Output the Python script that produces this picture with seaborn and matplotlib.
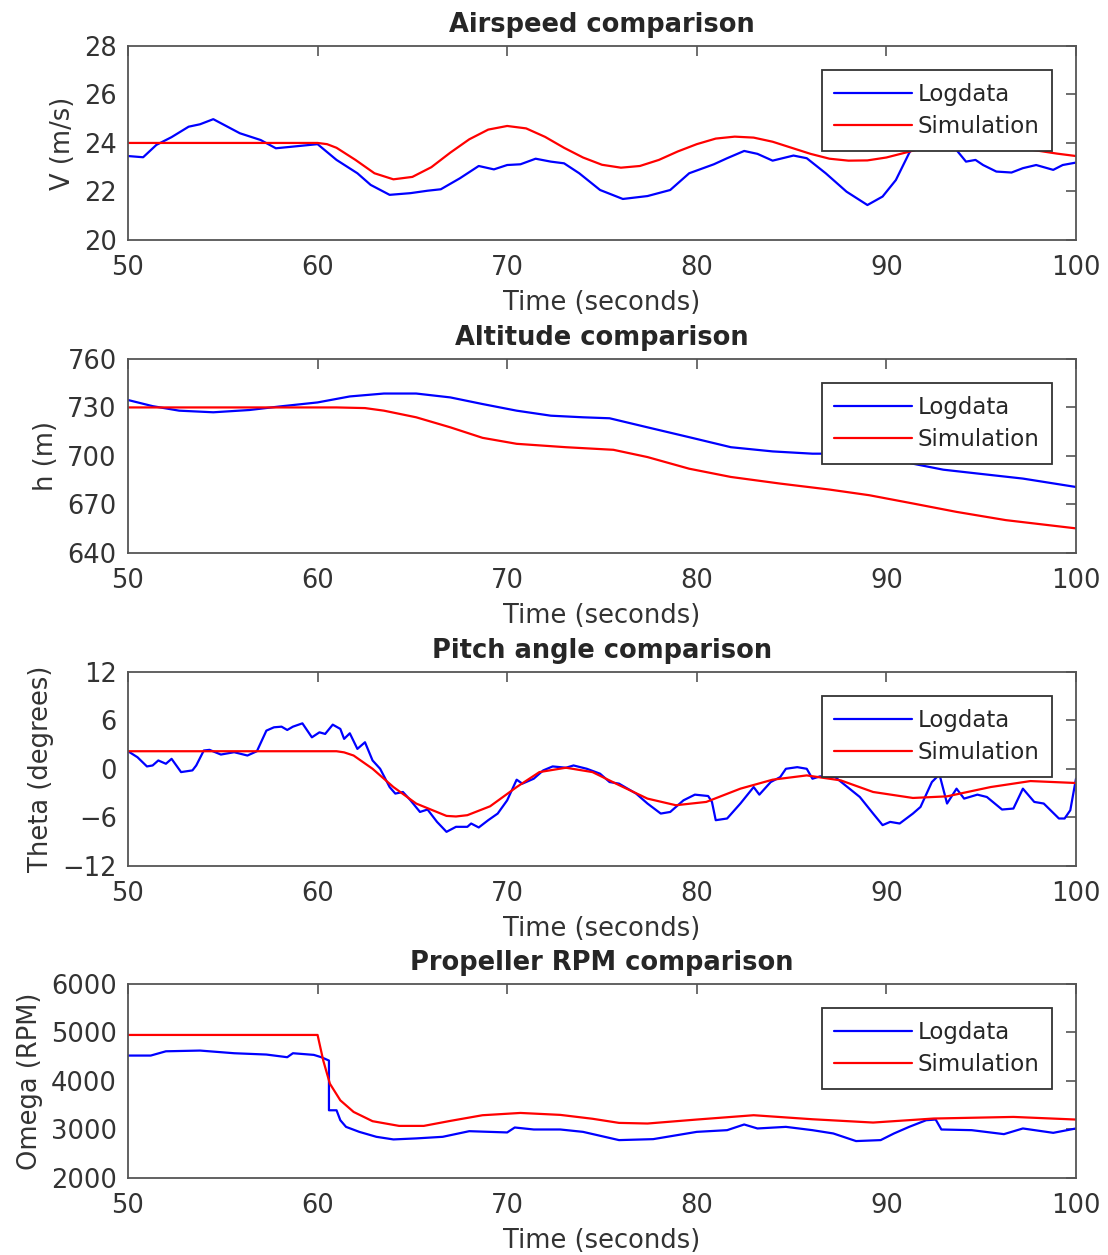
import matplotlib
matplotlib.use("Agg")
import matplotlib.pyplot as plt
import seaborn as sns

# ---- airspeed (m/s) ----
v_log_t = [50, 50.8, 51.5, 52.3, 53.2, 53.8, 54.5, 55.9, 57.0, 57.8, 59.1, 60.0, 61.0, 62.1, 62.8,
           63.8, 64.9, 65.8, 66.5, 67.5, 68.5, 69.3, 70.0, 70.7, 71.5, 72.3, 73.0, 73.8, 74.9, 76.1,
           77.4, 78.6, 79.6, 80.9, 81.6, 82.5, 83.2, 84.0, 85.1, 85.8, 86.8, 87.9, 89.0, 89.8, 90.5,
           91.2, 91.8, 92.5, 93.4, 94.2, 94.7, 95.1, 95.8, 96.6, 97.2, 97.9, 98.8, 99.3, 100]
v_log = [23.46, 23.41, 23.92, 24.24, 24.67, 24.77, 24.98, 24.40, 24.12, 23.78, 23.88, 23.95, 23.30,
         22.75, 22.27, 21.86, 21.93, 22.03, 22.09, 22.54, 23.05, 22.91, 23.09, 23.12, 23.35, 23.23,
         23.16, 22.75, 22.06, 21.69, 21.81, 22.06, 22.75, 23.12, 23.37, 23.67, 23.55, 23.27, 23.48,
         23.37, 22.75, 21.99, 21.44, 21.79, 22.47, 23.58, 24.40, 24.6, 23.99, 23.23, 23.30, 23.09,
         22.82, 22.78, 22.96, 23.09, 22.89, 23.09, 23.19]
v_sim_t = [50, 60, 60.5, 61, 62, 63, 64, 65, 66, 67, 68, 69, 70, 71, 72, 73, 74, 75, 76, 77, 78,
           79, 80, 81, 82, 83, 84, 85, 86, 87, 88, 89, 90, 91, 92, 93, 94, 95, 96, 97, 98, 99, 100]
v_sim = [24.0, 24.0, 23.95, 23.8, 23.3, 22.75, 22.5, 22.6, 23.0, 23.6, 24.15, 24.55, 24.7, 24.6,
         24.25, 23.8, 23.4, 23.1, 22.98, 23.05, 23.3, 23.65, 23.95, 24.18, 24.26, 24.22, 24.05, 23.8,
         23.55, 23.35, 23.27, 23.28, 23.4, 23.6, 23.8, 23.95, 24.03, 24.02, 23.93, 23.8, 23.68,
         23.56, 23.46]

# ---- altitude (m) ----
h_log_t = [50, 51.3, 52.7, 54.5, 56.4, 58.0, 60.0, 61.7, 63.5, 65.2, 67.0, 68.7, 70.5, 72.3, 74.0,
           75.4, 77.4, 79.6, 81.8, 84.0, 86.1, 88.4, 90.0, 91.4, 93.0, 94.9, 97.2, 100]
h_log = [734.6, 730.8, 728.0, 727.0, 728.4, 730.6, 733.1, 736.8, 738.6, 738.6, 736.2, 732.1, 728.0,
         724.9, 723.9, 723.3, 717.7, 711.6, 705.4, 702.8, 701.4, 701.4, 699.3, 695.2, 691.5, 689.0,
         686.0, 680.8]
h_sim_t = [50, 61, 62.5, 63.5, 65.2, 67.0, 68.7, 70.5, 73.1, 75.6, 77.4, 79.6, 81.8, 84.4, 87.0,
           89.1, 91.4, 93.7, 96.3, 100]
h_sim = [730, 730, 729.6, 728.0, 723.9, 717.7, 711.2, 707.5, 705.4, 703.8, 699.3, 692.1, 687.0,
         682.9, 679.2, 675.7, 670.6, 665.4, 660.3, 655.2]

# ---- pitch angle (deg) ----
th_log_t = [50, 50.5, 51.0, 51.3, 51.6, 52.0, 52.3, 52.8, 53.4, 53.6,
            54.0, 54.3, 54.9, 55.6, 56.3, 56.8, 57.3, 57.7, 58.1, 58.4,
            58.7, 59.2, 59.7, 60.1, 60.4, 60.8, 61.2, 61.4, 61.7, 62.1,
            62.5, 62.9, 63.3, 63.8, 64.1, 64.5, 64.9, 65.4, 65.8, 66.3,
            66.8, 67.3, 67.9, 68.1, 68.5, 69.0, 69.5, 70.0, 70.5, 70.8,
            71.4, 71.9, 72.4, 73.1, 73.5, 74.2, 74.9, 75.4, 75.9, 76.8,
            77.4, 78.1, 78.6, 79.3, 79.9, 80.6, 80.8, 81.0, 81.6, 82.3,
            83.0, 83.3, 83.9, 84.4, 84.7, 85.3, 85.8, 86.1, 86.5, 87.3,
            87.9, 88.6, 89.3, 89.8, 90.2, 90.7, 91.4, 91.8, 92.4, 92.8,
            93.2, 93.7, 94.1, 94.8, 95.3, 96.1, 96.7, 97.2, 97.8, 98.3,
            99.1, 99.4, 99.7, 100]
th_log = [2.19, 1.45, 0.31, 0.43, 1.05, 0.64, 1.25, -0.39, -0.18, 0.43,
          2.28, 2.36, 1.78, 2.07, 1.66, 2.19, 4.74, 5.15, 5.23, 4.82,
          5.23, 5.64, 3.91, 4.53, 4.33, 5.48, 4.95, 3.72, 4.41, 2.48,
          3.30, 1.05, 0.02, -2.24, -3.05, -2.85, -3.88, -5.32, -5.02, -6.55,
          -7.78, -7.16, -7.16, -6.75, -7.24, -6.34, -5.52, -3.88, -1.33, -1.82,
          -1.21, -0.18, 0.31, 0.15, 0.43, 0.02, -0.59, -1.62, -1.82, -3.05,
          -4.28, -5.52, -5.32, -3.88, -3.18, -3.35, -4.08, -6.34, -6.13, -4.28,
          -2.24, -3.18, -1.62, -1.01, 0.02, 0.22, 0.02, -1.21, -0.92, -1.01,
          -2.15, -3.47, -5.52, -6.95, -6.55, -6.75, -5.52, -4.70, -1.62, -0.68,
          -4.28, -2.44, -3.67, -3.18, -3.47, -5.02, -4.90, -2.44, -4.08, -4.28,
          -6.13, -6.13, -5.11, -1.21]
th_sim_t = [50, 61.0, 61.4, 61.9, 62.9, 64.0, 65.2, 66.8, 67.3, 67.9, 69.1, 70.5, 71.7, 73.1, 74.5,
            75.9, 77.4, 78.9, 80.5, 82.3, 84.0, 85.8, 87.6, 89.3, 91.4, 93.2, 95.5, 97.6, 100]
th_sim = [2.19, 2.19, 2.05, 1.66, 0.02, -2.24, -4.28, -5.81, -5.88, -5.72, -4.62, -2.24, -0.39,
          0.15, -0.39, -2.0, -3.67, -4.49, -4.08, -2.44, -1.33, -0.80, -1.42, -2.85, -3.59, -3.39,
          -2.24, -1.50, -1.74]

# ---- propeller speed (RPM) ----
w_log_t = [50, 51.2, 52.0, 53.8, 55.6, 57.3, 58.4, 58.7, 59.8, 60.2,
           60.6, 60.6, 61.0, 61.2, 61.5, 62.2, 63.1, 64.0, 65.2, 66.6,
           68.0, 70.0, 70.4, 71.4, 72.8, 74.0, 75.9, 77.7, 80.0, 81.6,
           82.5, 83.2, 84.7, 86.1, 87.2, 88.4, 89.7, 90.4, 91.2, 92.1,
           92.6, 92.9, 94.5, 96.2, 97.2, 98.8, 100]
w_log = [4523, 4523, 4611, 4626, 4571, 4544, 4489, 4571, 4537, 4489,
         4420, 3395, 3395, 3190, 3053, 2950, 2848, 2794, 2815, 2848,
         2964, 2938, 3040, 2999, 2999, 2950, 2780, 2800, 2950, 2985,
         3102, 3020, 3053, 2985, 2917, 2760, 2780, 2917, 3053, 3190,
         3204, 2999, 2985, 2903, 3020, 2930, 3020]
w_sim_t = [50, 60.0, 60.3, 60.65, 61.2, 61.9, 62.9, 64.3, 65.6, 67.0, 68.7, 70.7, 72.8, 74.5,
           75.9, 77.4, 80.0, 83.0, 86.1, 89.3, 92.5, 96.7, 100]
w_sim = [4948, 4948, 4420, 3943, 3600, 3361, 3170, 3073, 3073, 3176, 3293, 3340, 3300, 3220,
         3135, 3122, 3204, 3293, 3210, 3142, 3225, 3258, 3204]

titles = ["Airspeed comparison", "Altitude comparison", "Pitch angle comparison",
          "Propeller RPM comparison"]
ylabels = ["V (m/s)", "h (m)", "Theta (degrees)", "Omega (RPM)"]
yticks = [[20, 22, 24, 26, 28], [640, 670, 700, 730, 760], [-12, -6, 0, 6, 12],
          [2000, 3000, 4000, 5000, 6000]]
xticks = [50, 60, 70, 80, 90, 100]

panels = [(v_log_t, v_log, v_sim_t, v_sim), (h_log_t, h_log, h_sim_t, h_sim),
          (th_log_t, th_log, th_sim_t, th_sim), (w_log_t, w_log, w_sim_t, w_sim)]

sns.set_style("white")
plt.rcParams["font.family"] = ["DejaVu Sans"]

fig = plt.figure(figsize=(11.08, 12.55), dpi=100)
bottoms = [0.8088, 0.5594, 0.3100, 0.0614]

for i, (lt, lv, st, sv) in enumerate(panels):
    ax = fig.add_axes([0.1155, bottoms[i], 0.8556, 0.1546])
    sns.lineplot(x=lt, y=lv, ax=ax, color="#0000ff", lw=1.6, label="Logdata",
                 estimator=None, sort=False)
    sns.lineplot(x=st, y=sv, ax=ax, color="#ff0000", lw=1.6, label="Simulation",
                 estimator=None, sort=False)
    ax.set_xlim(50, 100)
    ax.set_ylim(yticks[i][0], yticks[i][-1])
    ax.set_xticks(xticks)
    ax.set_yticks(yticks[i])
    ax.tick_params(direction="in", top=True, right=True, length=7, width=1.2,
                   color="#555555", labelcolor="#333333", labelsize=18.5)
    ax.tick_params(axis="x", pad=11)
    ax.tick_params(axis="y", pad=8)
    for s in ax.spines.values():
        s.set_color("#555555")
        s.set_linewidth(1.3)
    ax.set_title(titles[i], fontsize=18.5, fontweight="bold", pad=10)
    ax.set_xlabel("Time (seconds)", fontsize=18.5, color="#333333", labelpad=6)
    ax.set_ylabel(ylabels[i], fontsize=18.5, color="#333333", labelpad=6)
    leg = ax.legend(loc="upper right", bbox_to_anchor=(0.975, 0.876), fontsize=16.5,
                    frameon=True, fancybox=False, framealpha=1, edgecolor="#333333",
                    handlelength=3.4, handletextpad=0.25, borderpad=0.55, labelspacing=0.42,
                    borderaxespad=0)
    leg.get_frame().set_linewidth(1.3)

fig.savefig("out.png", dpi=100)
